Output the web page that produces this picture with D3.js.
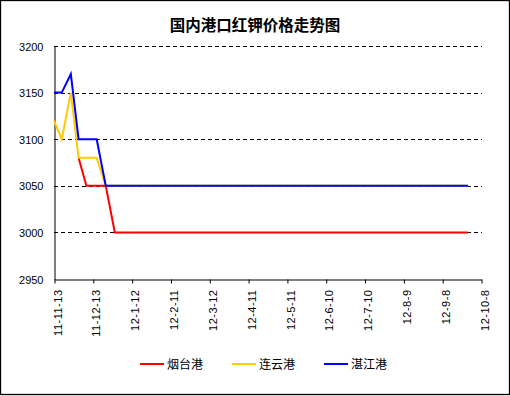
<!DOCTYPE html>
<html>
<head>
<meta charset="utf-8">
<script src="https://cdn.jsdelivr.net/npm/d3@7/dist/d3.min.js"></script>
<style>
body { margin: 0; background: #fff; }
</style>
</head>
<body>
<div id="vis"></div>
<script>
var width = 510,
  height = 396;

// data
var dates = ["11-11-13", "11-11-19", "11-11-26", "11-12-2", "11-12-8", "11-12-16", "11-12-23", "11-12-30", "12-9-28"];
var yantai = [null, null, null, 3080, 3050, 3050, 3050, 3000, 3000];
var lianyun = [3120, 3100, 3150, 3080, 3080, 3080, 3050, 3050, 3050];
var zhanjiang = [3150, 3150, 3170, 3100, 3100, 3100, 3050, 3050, 3050];

var seriesNames = ["烟台港", "连云港", "湛江港"];
var seriesColors = ["#ff0000", "#ffcc00", "#0000ff"];

var tickLabels = ["11-11-13", "11-12-13", "12-1-12", "12-2-11", "12-3-12", "12-4-11",
  "12-5-11", "12-6-10", "12-7-10", "12-8-9", "12-9-8", "12-10-8"];
var yTicks = [2950, 3000, 3050, 3100, 3150, 3200];

var title = "国内港口红钾价格走势图";

var parseDate = d3.timeParse("%y-%m-%d");
var tickDates = tickLabels.map(parseDate);

var plot = { left: 54, right: 481, top: 46, bottom: 279 };

var x = d3.scaleTime()
  .domain([tickDates[0], tickDates[tickDates.length - 1]])
  .range([plot.left, plot.right]);

var y = d3.scaleLinear()
  .domain([2950, 3200])
  .range([plot.bottom, plot.top]);

var svg = d3.select("#vis")
  .append("svg")
  .attr("width", width)
  .attr("height", height)
  .style("display", "block");

svg.append("rect")
  .attr("x", 0.5)
  .attr("y", 0.5)
  .attr("width", 509)
  .attr("height", 394)
  .attr("fill", "#fff")
  .attr("stroke", "#000")
  .attr("stroke-width", 1.3);

// title
svg.append("text")
  .attr("x", 255)
  .attr("y", 31)
  .attr("text-anchor", "middle")
  .attr("font-family", "'Noto Sans CJK SC', sans-serif")
  .attr("font-size", "15.5px")
  .attr("font-weight", "bold")
  .text(title);

// gridlines
svg.append("g")
  .attr("class", "grid")
  .selectAll("line")
  .data(yTicks.slice(1))
  .enter()
  .append("line")
  .attr("x1", plot.left)
  .attr("x2", plot.right + 1)
  .attr("y1", d => Math.round(y(d)) + 0.5)
  .attr("y2", d => Math.round(y(d)) + 0.5)
  .attr("stroke", "#000")
  .attr("stroke-width", 1)
  .attr("stroke-dasharray", "4,3");

// y axis
var yAxis = d3.axisLeft(y)
  .tickValues(yTicks)
  .tickFormat(d3.format("d"))
  .tickSize(0)
  .tickPadding(11);

var gy = svg.append("g")
  .attr("transform", "translate(" + (plot.left + 0.5) + ",0.5)")
  .call(yAxis);
gy.select(".domain").attr("stroke", "#000");
gy.selectAll("text")
  .attr("font-family", "'Liberation Sans', Arial, sans-serif")
  .attr("font-size", "11px")
  .attr("fill", "#000");

// x axis
var xAxis = d3.axisBottom(x)
  .tickValues(tickDates)
  .tickFormat((d, i) => tickLabels[i])
  .tickSizeInner(4)
  .tickSizeOuter(0)
  .tickPadding(6);

var gx = svg.append("g")
  .attr("transform", "translate(0.5," + (plot.bottom + 0.5) + ")")
  .call(xAxis);
gx.select(".domain").attr("stroke", "#000");
gx.selectAll(".tick line").attr("stroke", "#000");
gx.selectAll("text")
  .attr("font-family", "'Liberation Sans', Arial, sans-serif")
  .attr("font-size", "11px")
  .attr("letter-spacing", "0.5px")
  .attr("fill", "#000")
  .attr("text-anchor", "end")
  .attr("transform", "rotate(-90)")
  .attr("x", -10)
  .attr("y", 0)
  .attr("dy", "0.6em");

// series
var allSeries = [yantai, lianyun, zhanjiang];
var line = d3.line()
  .defined(d => d.v != null)
  .x(d => x(d.date))
  .y(d => y(d.v));

allSeries.forEach((vals, k) => {
  var pts = dates.map((d, i) => ({ date: parseDate(d), v: vals[i] }));
  svg.append("path")
    .datum(pts)
    .attr("fill", "none")
    .attr("stroke", seriesColors[k])
    .attr("stroke-width", 2)
    .attr("d", line);
});

// legend
var legendX = [140, 232, 324];
seriesNames.forEach((name, k) => {
  svg.append("line")
    .attr("x1", legendX[k])
    .attr("x2", legendX[k] + 24)
    .attr("y1", 364)
    .attr("y2", 364)
    .attr("stroke", seriesColors[k])
    .attr("stroke-width", 2);
  svg.append("text")
    .attr("x", legendX[k] + 27)
    .attr("y", 368.5)
    .attr("font-family", "'Noto Sans CJK SC', sans-serif")
    .attr("font-size", "12px")
    .text(name);
});
</script>
</body>
</html>
